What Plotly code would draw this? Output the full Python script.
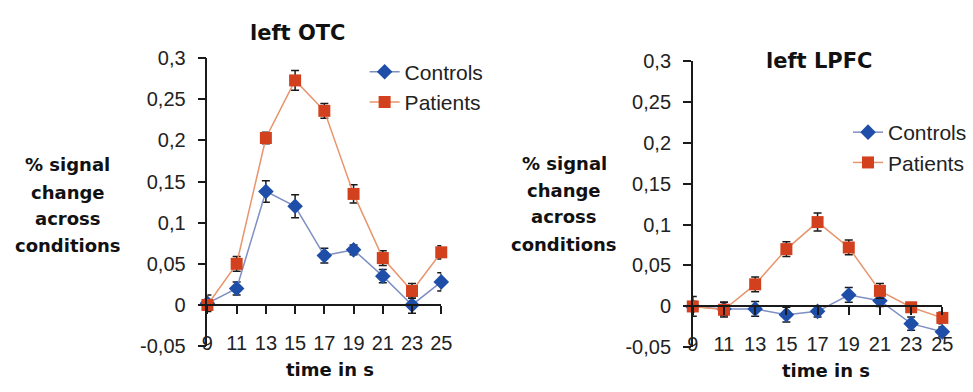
import plotly.graph_objects as go

# ---- data -------------------------------------------------------------
time_s = [9, 11, 13, 15, 17, 19, 21, 23, 25]

otc_controls = [0.002, 0.020, 0.138, 0.120, 0.060, 0.067, 0.035, 0.000, 0.028]
otc_controls_err = [0.010, 0.008, 0.013, 0.014, 0.009, 0.006, 0.008, 0.010, 0.011]
otc_patients = [0.000, 0.050, 0.203, 0.273, 0.236, 0.135, 0.057, 0.017, 0.064]
otc_patients_err = [0.006, 0.009, 0.007, 0.012, 0.009, 0.011, 0.009, 0.009, 0.008]

lpfc_controls = [0.000, -0.003, -0.003, -0.010, -0.006, 0.014, 0.007, -0.021, -0.031]
lpfc_controls_err = [0.012, 0.008, 0.009, 0.009, 0.007, 0.009, 0.007, 0.008, 0.006]
lpfc_patients = [0.000, -0.004, 0.027, 0.070, 0.103, 0.072, 0.019, -0.001, -0.014]
lpfc_patients_err = [0.006, 0.009, 0.009, 0.009, 0.011, 0.009, 0.009, 0.005, 0.007]

y_ticks = [-0.05, 0, 0.05, 0.1, 0.15, 0.2, 0.25, 0.3]
y_tick_text = ["-0,05", "0", "0,05", "0,1", "0,15", "0,2", "0,25", "0,3"]
x_ticks = time_s
x_tick_text = [str(t) for t in time_s]

series_names = ["Controls", "Patients"]
y_title_lines = ["% signal", "change", "across", "conditions"]
x_title = "time in s"
panel_titles = ["left OTC", "left LPFC"]

# ---- styling ----------------------------------------------------------
W, H = 973, 392
BLUE_MARK, BLUE_LINE = "#1f4ea8", "#7f8fc4"
RED_MARK, RED_LINE = "#d2401e", "#e8946c"
AXIS = "#1a1a1a"
REG = "Liberation Sans, Arial, sans-serif"
BOLD = "DejaVu Sans, Verdana, sans-serif"


def px_x(p):
    return p / W


def px_y(p):
    return 1 - p / H


fig = go.Figure()


def add_series(xa, ya, ctrl, ctrl_err, pat, pat_err, legend):
    fig.add_trace(go.Scatter(
        x=time_s, y=ctrl, name=series_names[0], xaxis=xa, yaxis=ya,
        mode="lines+markers", legend=legend, cliponaxis=False,
        line=dict(color=BLUE_LINE, width=1.5),
        marker=dict(symbol="diamond", size=12, color=BLUE_MARK),
        error_y=dict(type="data", array=ctrl_err, color=AXIS, thickness=1.5, width=4),
    ))
    fig.add_trace(go.Scatter(
        x=time_s, y=pat, name=series_names[1], xaxis=xa, yaxis=ya,
        mode="lines+markers", legend=legend, cliponaxis=False,
        line=dict(color=RED_LINE, width=1.5),
        marker=dict(symbol="square", size=12, color=RED_MARK),
        error_y=dict(type="data", array=pat_err, color=AXIS, thickness=1.5, width=4),
    ))


add_series("x", "y", otc_controls, otc_controls_err, otc_patients, otc_patients_err, "legend")
add_series("x2", "y2", lpfc_controls, lpfc_controls_err, lpfc_patients, lpfc_patients_err, "legend2")

# panel geometry in pixels: (left, right, top(0.3), bottom(-0.05))
panels = [(205, 443, 50, 355), (699, 953, 52.7, 356.4)]


def zero_pos(top, bottom):
    zero_px = top + (bottom - top) * 0.3 / 0.35
    return px_y(zero_px)


common_x = dict(
    range=[9, 25], tickmode="array", tickvals=x_ticks, ticktext=x_tick_text,
    ticks="outside", ticklen=8, tickwidth=1.5, tickcolor=AXIS,
    showline=True, linecolor=AXIS, linewidth=1.5, showgrid=False, zeroline=False,
    tickfont=dict(family=REG, size=20, color="#222"), ticklabelstandoff=12,
    anchor="free", fixedrange=True,
)
common_y = dict(
    range=[-0.05, 0.3], tickmode="array", tickvals=y_ticks, ticktext=y_tick_text,
    ticks="outside", ticklen=8, tickwidth=1.5, tickcolor=AXIS,
    showline=True, linecolor=AXIS, linewidth=1.5, showgrid=False, zeroline=False,
    tickfont=dict(family=REG, size=20, color="#222"), ticklabelstandoff=8,
    fixedrange=True,
)

(l1, r1, t1, b1), (l2, r2, t2, b2) = panels
fig.update_layout(
    width=W, height=H, margin=dict(l=0, r=0, t=0, b=0),
    paper_bgcolor="white", plot_bgcolor="white",
    xaxis=dict(common_x, domain=[px_x(l1), px_x(r1)], position=zero_pos(t1, b1)),
    yaxis=dict(common_y, domain=[px_y(b1), px_y(t1)], anchor="x"),
    xaxis2=dict(common_x, domain=[px_x(l2), px_x(r2)], position=zero_pos(t2, b2)),
    yaxis2=dict(common_y, domain=[px_y(b2), px_y(t2)], anchor="x2"),
    legend=dict(x=px_x(365), y=px_y(43), xanchor="left", yanchor="top",
                font=dict(family=REG, size=21, color="#222"),
                bgcolor="rgba(0,0,0,0)", itemwidth=30, tracegroupgap=0),
    legend2=dict(x=px_x(857), y=px_y(107), xanchor="left", yanchor="top",
                 font=dict(family=REG, size=21, color="#222"),
                 bgcolor="rgba(0,0,0,0)", itemwidth=30, tracegroupgap=0),
    showlegend=True,
)

annotations = []
# panel titles
for text, (cx, cy) in zip(panel_titles, [(297, 23), (827, 53)]):
    annotations.append(dict(text="<b>%s</b>" % text, x=px_x(cx), y=px_y(cy),
                            xref="paper", yref="paper",
                            xanchor="center", yanchor="middle", showarrow=False,
                            font=dict(family=BOLD, size=21, color="#111")))
# y-axis titles, one line each
for cx, ys in [(63, [163, 192, 220, 248]), (568, [162, 190, 218, 247])]:
    for line, cy in zip(y_title_lines, ys):
        annotations.append(dict(text="<b>%s</b>" % line, x=px_x(cx), y=px_y(cy),
                                xref="paper", yref="paper",
                                xanchor="center", yanchor="middle", showarrow=False,
                                font=dict(family=BOLD, size=18, color="#111")))
# x-axis titles
for cx, cy in [(330, 380), (835, 381)]:
    annotations.append(dict(text="<b>%s</b>" % x_title, x=px_x(cx), y=px_y(cy),
                            xref="paper", yref="paper",
                            xanchor="center", yanchor="middle", showarrow=False,
                            font=dict(family=BOLD, size=18, color="#111")))
fig.update_layout(annotations=annotations)

fig.write_html("out.html")
